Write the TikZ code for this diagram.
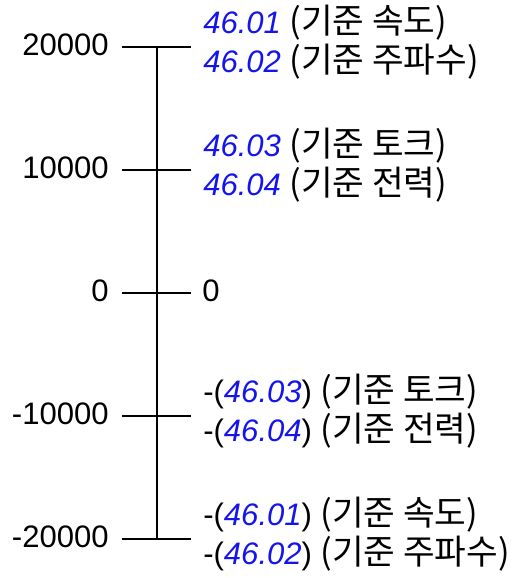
\documentclass[tikz,border=0pt]{standalone}
\usepackage{fontspec}
\setmainfont{Liberation Sans}
\newfontfamily\kr{Noto Sans CJK KR}
\definecolor{parblue}{RGB}{20,20,235}
\tikzset{
  axisline/.style={line width=1.9pt, black},
  lbl/.style={inner sep=0pt, font=\fontsize{23.3}{26}\selectfont},
  lbll/.style={lbl, anchor=base east},
  lblr/.style={lbl, anchor=base west},
}
\newcommand{\pnum}[1]{\textcolor{parblue}{\itshape #1}}
\newcommand{\krt}[1]{{\kr\fontsize{25.8}{28}\selectfont #1}}
\begin{document}
\begin{tikzpicture}[x=0.75pt,y=-0.75pt]
\useasboundingbox (0,0) rectangle (516,578);
% axis
\coordinate (top) at (157,47);
\coordinate (bot) at (157,539);
\draw[axisline] (top) -- (bot);
\foreach \y/\n in {47/a,170/b,293/c,416/d,539/e}{
  \coordinate (tl\n) at (122,\y);
  \coordinate (tr\n) at (191,\y);
  \draw[axisline] (tl\n) -- (tr\n);
}
% left labels
\node[lbll] (l1) at (109,55) {20000};
\node[lbll] (l2) at (109,178) {10000};
\node[lbll] (l3) at (109,301) {0};
\node[lbll] (l4) at (109,424) {-10000};
\node[lbll] (l5) at (109,547) {-20000};
% right labels
\node[lblr] (r1a) at (203,33) {\pnum{46.01} \krt{(기준 속도)}};
\node[lblr] (r1b) at (203,72) {\pnum{46.02} \krt{(기준 주파수)}};
\node[lblr] (r2a) at (203,156) {\pnum{46.03} \krt{(기준 토크)}};
\node[lblr] (r2b) at (203,195) {\pnum{46.04} \krt{(기준 전력)}};
\node[lblr] (r3) at (202,301) {0};
\node[lblr] (r4a) at (203,402) {-(\pnum{46.03}) \krt{(기준 토크)}};
\node[lblr] (r4b) at (203,441) {-(\pnum{46.04}) \krt{(기준 전력)}};
\node[lblr] (r5a) at (203,525) {-(\pnum{46.01}) \krt{(기준 속도)}};
\node[lblr] (r5b) at (203,564) {-(\pnum{46.02}) \krt{(기준 주파수)}};
\end{tikzpicture}
\end{document}
